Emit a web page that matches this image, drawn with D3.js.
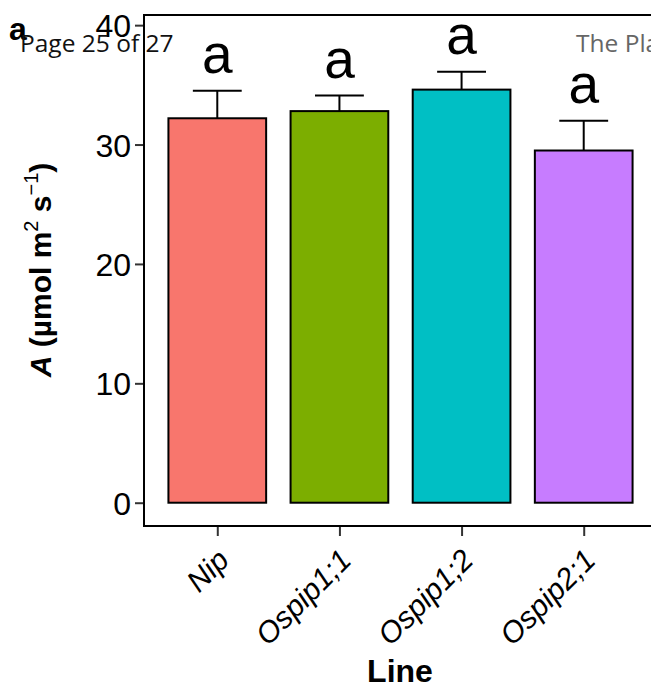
<!DOCTYPE html>
<html>
<head>
<meta charset="utf-8">
<script src="https://cdn.jsdelivr.net/npm/d3@7"></script>
<style>
  body { margin: 0; background: #fff; }
  svg { display: block; font-family: "Liberation Sans", Arial, sans-serif; }
</style>
</head>
<body>
<div id="chart"></div>
<script>
// data
const lines = ['Nip', 'Ospip1;1', 'Ospip1;2', 'Ospip2;1'];
const means = [32.2, 32.8, 34.6, 29.5];
const errors = [2.3, 1.3, 1.5, 2.5];
const letters = ['a', 'a', 'a', 'a'];
const colors = ['#F8766D', '#7CAE00', '#00BFC4', '#C77CFF'];
const yTicks = [0, 10, 20, 30, 40];

const width = 651, height = 690;
const panel = { left: 144, top: 15, right: 657, bottom: 526 };

const svg = d3.select('#chart').append('svg')
    .attr('width', width)
    .attr('height', height);

const data = lines.map((d, i) => ({ line: d, mean: means[i], se: errors[i], letter: letters[i], color: colors[i] }));

// discrete axis with ggplot-like 0.6 expansion
const step = (panel.right - panel.left) / (lines.length - 1 + 1.2);
const x = d3.scalePoint()
    .domain(lines)
    .range([panel.left + 0.6 * step, panel.right - 0.6 * step]);
const barW = step * 0.8;

const y = d3.scaleLinear()
    .domain([-1.95, 40.85])
    .range([panel.bottom, panel.top]);

// bars
svg.selectAll('.bar')
    .data(data)
    .enter()
    .append('rect')
    .attr('class', 'bar')
    .attr('x', d => x(d.line) - barW / 2)
    .attr('y', d => y(d.mean))
    .attr('width', barW)
    .attr('height', d => y(0) - y(d.mean))
    .attr('fill', d => d.color)
    .attr('stroke', '#000')
    .attr('stroke-width', 2);

// error bars (upper only)
const eb = svg.selectAll('.err')
    .data(data)
    .enter()
    .append('g')
    .attr('class', 'err')
    .attr('stroke', '#000')
    .attr('stroke-width', 2);

eb.append('line')
    .attr('x1', d => x(d.line))
    .attr('x2', d => x(d.line))
    .attr('y1', d => y(d.mean))
    .attr('y2', d => y(d.mean + d.se));

eb.append('line')
    .attr('x1', d => x(d.line) - barW / 4)
    .attr('x2', d => x(d.line) + barW / 4)
    .attr('y1', d => y(d.mean + d.se))
    .attr('y2', d => y(d.mean + d.se));

// significance letters
svg.selectAll('.letter')
    .data(data)
    .enter()
    .append('text')
    .attr('class', 'letter')
    .attr('x', d => x(d.line))
    .attr('y', d => y(d.mean + d.se + 1.5))
    .attr('text-anchor', 'middle')
    .style('font-size', '55px')
    .text(d => d.letter);

// panel border
svg.append('rect')
    .attr('x', panel.left)
    .attr('y', panel.top)
    .attr('width', panel.right - panel.left)
    .attr('height', panel.bottom - panel.top)
    .attr('fill', 'none')
    .attr('stroke', '#000')
    .attr('stroke-width', 2);

// y axis
const yAxis = svg.append('g')
    .attr('transform', `translate(${panel.left - 1},0)`)
    .call(d3.axisLeft(y).tickValues(yTicks).tickSize(8).tickPadding(4));
yAxis.select('.domain').remove();
yAxis.selectAll('line').attr('stroke', '#333').attr('stroke-width', 2);
yAxis.selectAll('text')
    .attr('fill', '#000')
    .style('font-size', '32px')
    .style('font-family', '"Liberation Sans", Arial, sans-serif')
    .attr('dy', '0.36em');

// x axis
const xAxis = svg.append('g')
    .attr('transform', `translate(0,${panel.bottom + 1})`)
    .call(d3.axisBottom(x).tickSize(9).tickPadding(4));
xAxis.select('.domain').remove();
xAxis.selectAll('line').attr('stroke', '#333').attr('stroke-width', 2);
xAxis.selectAll('text')
    .attr('fill', '#000')
    .style('font-size', '30px')
    .style('font-style', 'italic')
    .style('font-family', '"Liberation Sans", Arial, sans-serif')
    .attr('text-anchor', 'end')
    .attr('dy', null)
    .attr('y', 0)
    .attr('transform', 'translate(13,35) rotate(-45)');

// axis titles
svg.append('text')
    .attr('x', 400)
    .attr('y', 682)
    .attr('text-anchor', 'middle')
    .style('font-size', '32px')
    .style('font-weight', 'bold')
    .text('Line');

const yTitle = svg.append('text')
    .attr('transform', `translate(51,270) rotate(-90)`)
    .attr('text-anchor', 'middle')
    .style('font-size', '30px')
    .style('font-weight', 'bold');
yTitle.append('tspan').style('font-style', 'italic').text('A');
yTitle.append('tspan').text(' (\u00B5mol m');
yTitle.append('tspan').attr('dy', -13).style('font-size', '20px').style('font-weight', 'normal').text('2');
yTitle.append('tspan').attr('dy', 13).text(' s');
yTitle.append('tspan').attr('dy', -13).style('font-size', '20px').style('font-weight', 'normal').text('\u22121');
yTitle.append('tspan').attr('dy', 13).text(')');

// panel tag and page header overlay
svg.append('text')
    .attr('x', 9)
    .attr('y', 40)
    .style('font-size', '32px')
    .style('font-weight', 'bold')
    .text('a');

svg.append('text')
    .attr('x', 20)
    .attr('y', 52)
    .style('font-size', '24.5px')
    .style('font-family', '"Open Sans", sans-serif')
    .attr('fill', '#111')
    .text('Page 25 of 27');

svg.append('text')
    .attr('x', 576)
    .attr('y', 52)
    .style('font-size', '24.5px')
    .style('font-family', '"Open Sans", sans-serif')
    .attr('fill', '#666')
    .text('The Plant');
</script>
</body>
</html>
